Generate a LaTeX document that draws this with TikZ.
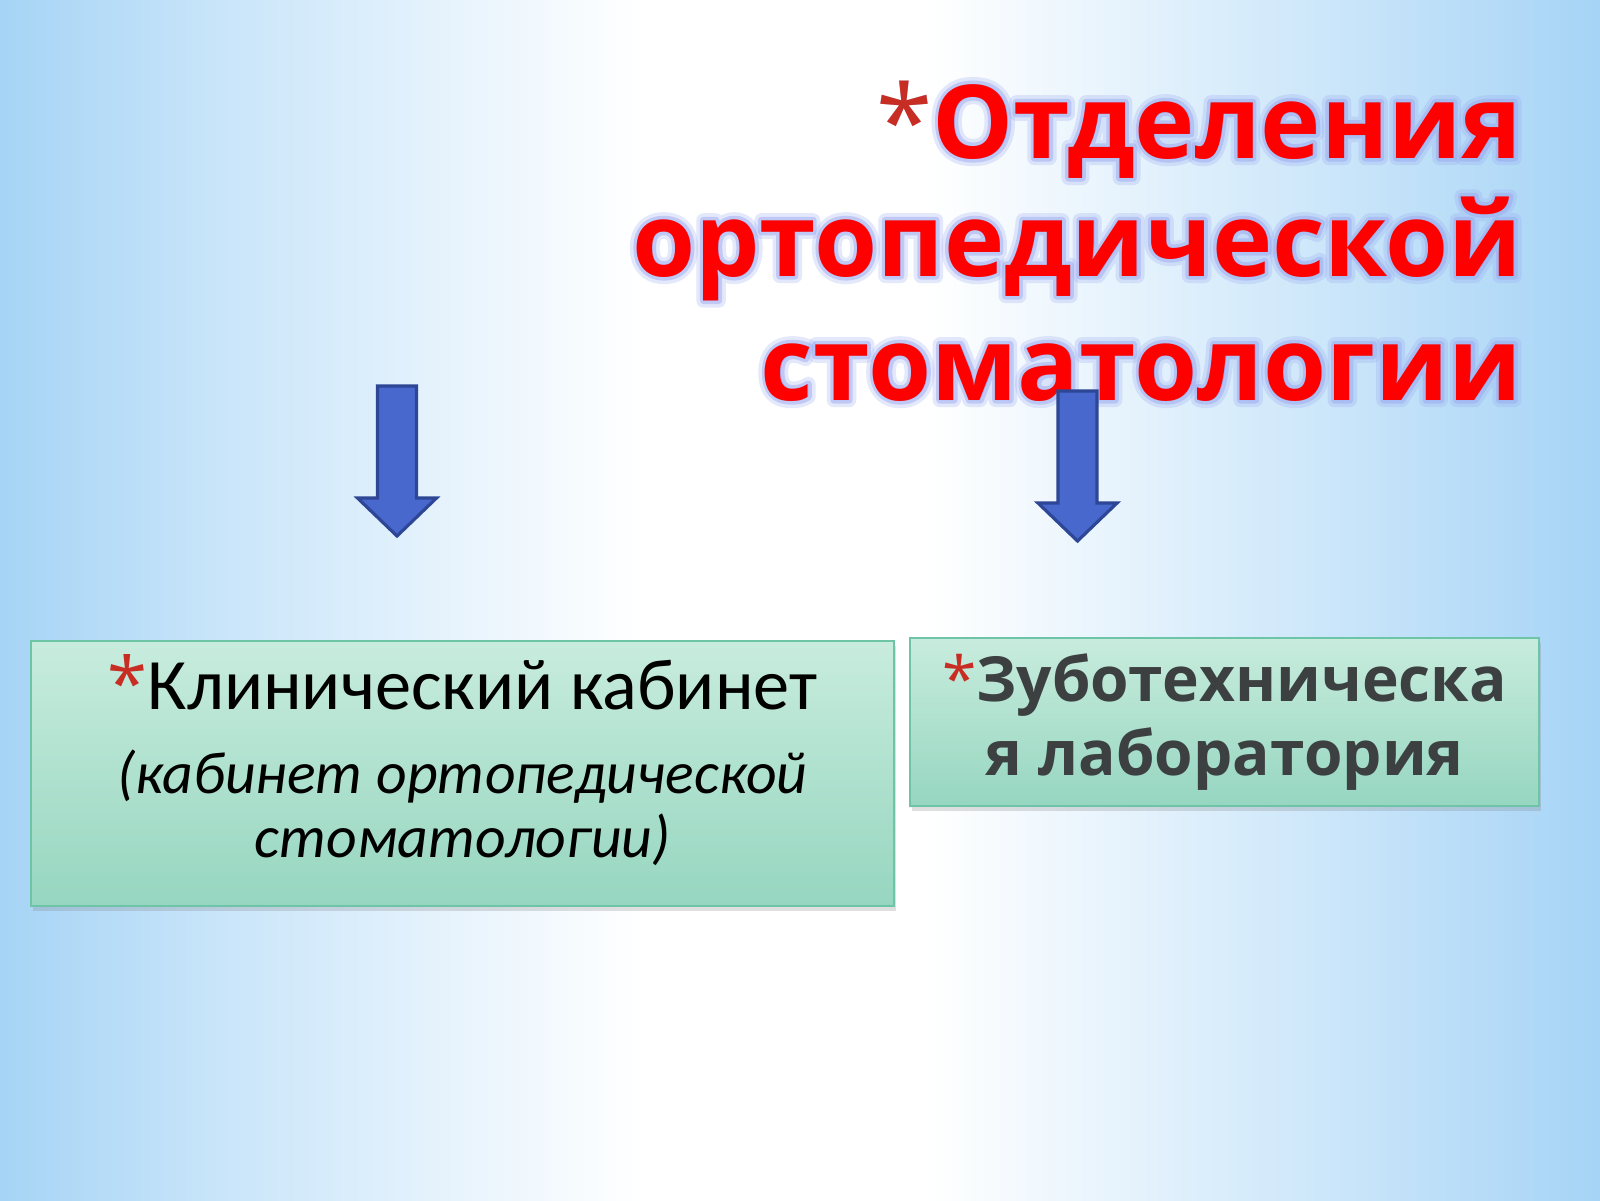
\documentclass[tikz,border=0pt]{standalone}
\usepackage{fontspec}
\setmainfont{Carlito}
\newfontfamily\opensans{Open Sans}
\newfontfamily\opensanswide[BoldFeatures={FakeBold=14}]{Open Sans}
\newfontfamily\opensansglow[BoldFeatures={FakeBold=7}]{Open Sans}
\usetikzlibrary{positioning, shadows}

\definecolor{bgblue}{RGB}{166,212,246}
\definecolor{titlered}{RGB}{255,0,0}
\definecolor{astred}{RGB}{200,45,35}
\definecolor{glowblue}{RGB}{150,165,240}
\definecolor{mintTop}{RGB}{200,236,222}
\definecolor{mintBot}{RGB}{150,214,192}
\definecolor{mintLine}{RGB}{110,196,166}
\definecolor{arrowblue}{RGB}{72,104,205}
\definecolor{arrowline}{RGB}{45,70,150}
\definecolor{labgray}{RGB}{60,64,64}
\colorlet{startint}{astred}

% the path box is mapped onto 25bp..75bp
\pgfdeclarehorizontalshading{slidebg}{100bp}{color(0bp)=(bgblue); color(25bp)=(bgblue);
  color(32bp)=(bgblue!60!white); color(45bp)=(white); color(54bp)=(white);
  color(67bp)=(bgblue!60!white); color(75bp)=(bgblue); color(100bp)=(bgblue)}

\tikzset{
  titlefont/.style={font=\opensans\bfseries\fontsize{29}{34}\selectfont, text=titlered, inner sep=0pt},
  titleglow/.style={font=\opensansglow\bfseries\fontsize{29}{34}\selectfont, text=glowblue,
    opacity=0.45, inner sep=0pt,
    execute at begin node={\special{pdf:literal direct 1 j 1 J}\colorlet{startint}{glowblue}}},
  titlehalo/.style={titleglow, font=\opensanswide\bfseries\fontsize{29}{34}\selectfont, opacity=0.25},
  clinicbox/.style={draw=mintLine, line width=0.8pt, top color=mintTop, bottom color=mintBot,
    minimum width=8.63cm, minimum height=2.65cm, align=center,
    drop shadow={opacity=0.25, shadow xshift=0.02, shadow yshift=-0.05}},
  labbox/.style={clinicbox, minimum width=6.29cm, minimum height=1.68cm},
  blockarrow/.style={fill=arrowblue, draw=arrowline, line width=0.9pt, line join=miter}
}

\newcommand{\starmark}{{\opensans\mdseries\color{startint}*}}
% one title line with a soft halo round it
\newcommand{\titleline}[3]{%
  \node[titlehalo, anchor=base east] (#1-halo) at (15.23,#2) {#3};
  \node[titleglow, anchor=base east] (#1-glow) at (15.23,#2) {#3};
  \node[titlefont, anchor=base east] (#1) at (15.23,#2) {#3};
}

\begin{document}
\begin{tikzpicture}

% slide background
\useasboundingbox (0,0) rectangle (16,-12);
\fill[shading=slidebg] (0,0) rectangle (16,-12);

% title
\titleline{title1}{-1.58}{\starmark Отделения}
\titleline{title2}{-2.76}{ортопедической}
\titleline{title3}{-4.00}{стоматологии}

% the two departments
\node[clinicbox, font=\fontsize{20.6}{18}\selectfont] (clinic) at (4.625,-7.735)
  {\starmark Клинический кабинет\\[6pt]
   {\fontsize{17}{18}\selectfont\itshape (кабинет ортопедической}\\
   {\fontsize{17}{18}\selectfont\itshape стоматологии)}\rule[-10pt]{0pt}{10pt}};
\node[labbox, font=\opensans\bfseries\fontsize{17.7}{21}\selectfont, text=labgray] (lab) at (12.245,-7.22)
  {\starmark Зуботехническа\\я лаборатория};

% block arrows
\coordinate (arrL) at (3.97,-3.86);
\coordinate (arrR) at (10.775,-3.91);
\foreach \c in {arrL, arrR}
  \draw[blockarrow] (\c) ++(-0.195,0) -- ++(0.39,0) -- ++(0,-1.12) -- ++(0.2,0)
    -- ++(-0.395,-0.38) -- ++(-0.395,0.38) -- ++(0.2,0) -- cycle;

\end{tikzpicture}
\end{document}
